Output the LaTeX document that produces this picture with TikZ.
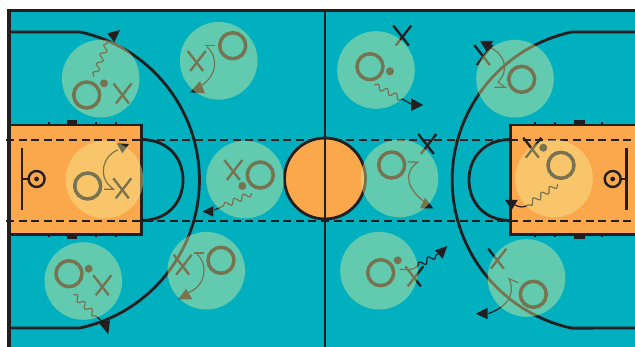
\documentclass[tikz,border=0pt]{standalone}
\usetikzlibrary{decorations.pathmorphing}
\definecolor{courtteal}{RGB}{0,176,191}
\definecolor{keyorange}{RGB}{251,168,76}
\definecolor{inkk}{RGB}{35,31,32}
\definecolor{glow}{RGB}{247,242,152}
\tikzset{
  court/.style={draw=inkk,line width=2.8pt},
  keybox/.style={draw=inkk,fill=keyorange,line width=2.8pt},
  dashline/.style={draw=inkk,line width=2.2pt,dash pattern=on 8pt off 4.6pt},
  spot/.style={fill=glow,fill opacity=0.4,draw=none},
  ring/.style={draw=inkk,line width=3.5pt},
  cross/.style={draw=inkk,line width=2.3pt},
  thin path/.style={draw=inkk,line width=1.2pt},
  wavy/.style={draw=inkk,line width=1.2pt,decorate,decoration={snake,segment length=10pt,amplitude=2.7pt,post length=1pt}},
  headtip/.style={fill=inkk,draw=none},
  xmark/.pic={\draw[cross] (-9,10)--(6.5,-10); \draw[cross] (-6.5,-10)--(9,10);}
}
\begin{document}
\begin{tikzpicture}[x=1pt,y=1pt,yscale=-1]
\useasboundingbox (0,0) rectangle (635,347);
\fill[white] (0,0) rectangle (635,347);
\fill[courtteal] (9,11) rectangle (635,347);
% keys
\draw[keybox] (9,125) rectangle (141.3,234.5);
\draw[keybox] (645,125) -- (510.5,125) -- (510.5,234.5) -- (645,234.5);
\clip (0,0) rectangle (635,347);
% outer lines
\draw[court,line width=3.2pt] (645,10.5) -- (9,10.5) -- (9,347);
\draw[court] (9,32) -- (80,32) arc[start angle=-77.8,end angle=77.8,radius=151.4] -- (9,328);
\draw[court] (640,32) -- (571.7,32) arc[start angle=257.8,end angle=102.2,radius=151.5] -- (640,328);
% free throw arcs
\draw[court] (141,139.5) .. controls (168,139.5) and (183,158) .. (183,180) .. controls (183,202) and (168,220.5) .. (141,220.5);
\draw[court] (510.5,139.5) .. controls (484,139.5) and (469,158) .. (469,180) .. controls (469,202) and (484,220.5) .. (510.5,220.5);
% hash marks
\foreach \hx in {48.7,96,116,535,555,602}{
  \fill[inkk] (\hx-1,122.5) rectangle (\hx+1,125);
  \fill[inkk] (\hx-1,235) rectangle (\hx+1,237.5);
}
\foreach \hx in {66.7,574}{
  \fill[inkk] (\hx,120.5) rectangle (\hx+10.5,125);
  \fill[inkk] (\hx,235) rectangle (\hx+10.5,239);
}
% backboards and hoops
\draw[court] (22,148) -- (22,210);
\draw[court,line width=2pt] (22,179) -- (28.5,179);
\draw[court,line width=2.4pt] (36.6,179) circle[radius=8];
\fill[inkk] (36.6,179) circle[radius=2.4];
\draw[court] (626.7,148) -- (626.7,210);
\draw[court,line width=2pt] (627,179) -- (620.5,179);
\draw[court,line width=2.4pt] (612.7,179) circle[radius=8];
\fill[inkk] (612.7,179) circle[radius=2.4];
% dashed lines
\draw[dashline] (6,140) -- (635,140);
\draw[dashline] (6,221) -- (635,221);
% centre
\draw[court,fill=keyorange] (325,178.5) circle[radius=40.5];
\draw[court] (325,11) -- (325,347);
% rings
\foreach \rx/\ry in {86.7/95,232.7/45.7,370/66.7,521.7/79.3,87.7/186,260.3/175,391.7/165,561/165.3,69/273.7,221/260.3,380.7/272.7,533.3/294.3}
  \draw[ring] (\rx,\ry) circle[radius=13];
% dots
\foreach \dx/\dy in {104/83.3,390/71.3,242.3/186,543.3/147.7,88.7/268.7,397.7/260.3}
  \fill[inkk] (\dx,\dy) circle[radius=4];
% crosses
\foreach \cx/\cy in {122.5/93.5,196.7/61,402.3/35.5,483.3/55,122.3/188.3,233.3/170,427.3/144,532.3/147.7,102.3/285.3,182.7/264.7,414.3/276.3,497.3/258.7}
  \pic at (\cx,\cy) {xmark};
% curved arrows
\draw[thin path] (205,45.7) -- (215,45.7);
\draw[thin path] (207,46.7) .. controls (218.3,56.7) and (218.3,76.7) .. (198.3,87.3);
\fill[headtip] (190,92.3) -- (200,81) -- (205,93.3) -- cycle;
\draw[thin path] (104,189.3) -- (113.3,189.3) -- (110,186) .. controls (98,176) and (103,155) .. (118,150);
\fill[headtip] (129,144) -- (116.7,143.3) -- (122.3,153.3) -- cycle;
\draw[thin path] (194.3,253) -- (204.3,253);
\draw[thin path] (196.7,253.7) .. controls (208.3,263.7) and (206.7,285.3) .. (188.3,292.7);
\fill[headtip] (178.3,299.3) -- (186,288.7) -- (192.3,299.3) -- cycle;
\draw[thin path] (407.7,161.7) -- (417.7,162.3) .. controls (403.3,171.7) and (406.7,188.3) .. (423.3,201);
\fill[headtip] (433.3,208.3) -- (425,197.7) -- (420,208.3) -- cycle;
\draw[thin path] (494.3,87.3) -- (505,87.3) -- (498,82) .. controls (510,70) and (505,53) .. (488,46.7);
\fill[headtip] (480,41) -- (493.3,41) -- (486.7,51.7) -- cycle;
\draw[thin path] (518.3,282.7) -- (509,278.7) .. controls (514,288.7) and (513,305) .. (488,313.7);
\fill[headtip] (475.7,313.7) -- (487.7,307.7) -- (487.7,319.3) -- cycle;
% wavy arrows
\draw[wavy] (94,76.7) -- (108,41.7);
\fill[headtip] (120,30) -- (107.3,33.3) -- (114.3,42.3) -- cycle;
\draw[wavy] (374.3,85) -- (404,100);
\draw[thin path] (404,100) -- (412,104.5);
\fill[headtip] (423.3,105) -- (411,98.3) -- (411,111) -- cycle;
\draw[wavy] (251.7,193.3) -- (220,207.5);
\draw[thin path] (220,207.5) -- (214,210);
\fill[headtip] (202.3,211.5) -- (213.3,206) -- (213.3,216.7) -- cycle;
\draw[wavy] (557.7,184.3) -- (527,205.5);
\draw[thin path] (527,205.5) .. controls (523,208) and (519,207) .. (515,205);
\fill[headtip] (511.7,210) -- (505,200) -- (517.7,200) -- cycle;
\draw[wavy] (73.3,294.7) -- (97,317);
\draw[thin path] (97,317) -- (104,323);
\fill[headtip] (108.3,334.3) -- (98.3,322) -- (110,320.3) -- cycle;
\draw[thin path] (400,269.3) .. controls (406,269) and (410,272) .. (417.7,266);
\draw[wavy] (417.7,266) -- (438,254);
\fill[headtip] (447.3,246) -- (435,250.3) -- (442.7,258.7) -- cycle;
% translucent spots on top
\foreach \sx/\sy in {100.7/78.7,218.7/60.8,376/70,515/78.7,104.5/179.5,245/179.5,399.5/178.5,554/178.5,83.3/281,206.3/270.7,379/270.7,526.5/278}
  \fill[spot] (\sx,\sy) circle[radius=38.8];
\end{tikzpicture}
\end{document}
